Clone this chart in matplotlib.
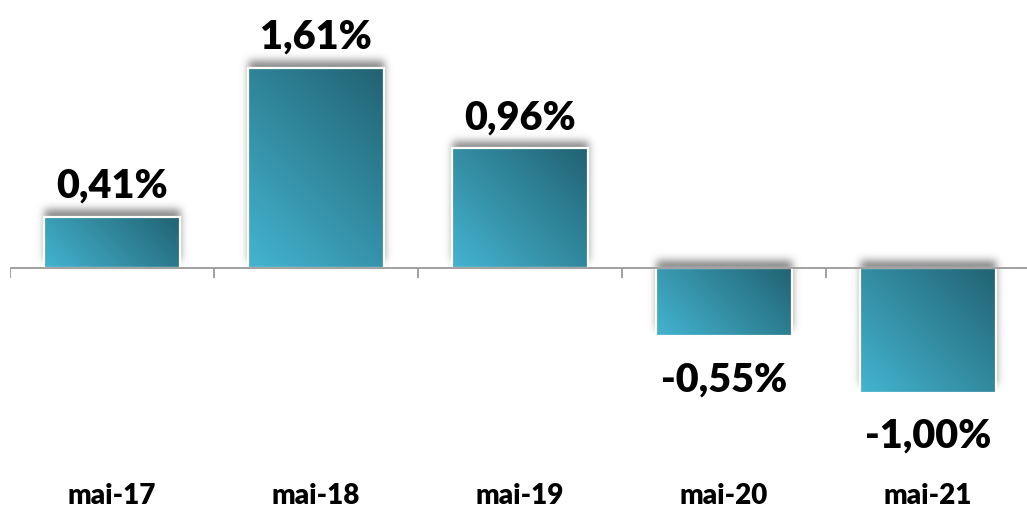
import numpy as np
import matplotlib
matplotlib.use("Agg")
import matplotlib.pyplot as plt
from matplotlib.patches import Rectangle
from matplotlib.transforms import blended_transform_factory, offset_copy
from math import erf

categories = ["mai-17", "mai-18", "mai-19", "mai-20", "mai-21"]
values = [0.41, 1.61, 0.96, -0.55, -1.00]
labels = ["0,41%", "1,61%", "0,96%", "-0,55%", "-1,00%"]

W, H, DPI = 1027, 510, 100
fig = plt.figure(figsize=(W / DPI, H / DPI), dpi=DPI)
ymin, ymax = -1.4, 2.0
px_per_unit = 124.5
zero_px = 269
top_px = zero_px - ymax * px_per_unit
bot_px = zero_px - ymin * px_per_unit
ax = fig.add_axes([10 / W, (H - bot_px) / H, 1020 / W, (bot_px - top_px) / H])
ax.set_xlim(-0.5, len(categories) - 0.5)
ax.set_ylim(ymin, ymax)
ax.axis("off")

xpx = 204.0
bw = 0.667
light = np.array([68, 180, 208]) / 255
dark = np.array([33, 98, 114]) / 255


def smooth(d, s):
    return 0.5 * (1 + np.vectorize(erf)(d / (s * np.sqrt(2))))


for i, v in enumerate(values):
    x0 = i - bw / 2
    y0, y1 = min(0, v), max(0, v)
    off = 7 / px_per_unit
    sig_x, sig_y = 4 / xpx, 4 / px_per_unit
    pad_x, pad_y = 16 / xpx, 16 / px_per_unit
    sx0, sx1 = x0 - pad_x, x0 + bw + pad_x
    sy0, sy1 = y0 + off - pad_y, y1 + off + pad_y
    xs = np.linspace(sx0, sx1, 120)
    ys = np.linspace(sy0, sy1, 200)
    X, Y = np.meshgrid(xs, ys)
    a = (smooth(X - x0, sig_x) * smooth(x0 + bw - X, sig_x)
         * smooth(Y - (y0 + off), sig_y) * smooth(y1 + off - Y, sig_y))
    img = np.zeros(a.shape + (4,))
    img[..., :3] = 0.42
    img[..., 3] = a * 0.8
    ax.imshow(img, extent=(sx0, sx1, sy0, sy1), origin="lower",
              aspect="auto", zorder=1, interpolation="bilinear")
    wpx = bw * xpx
    hpx = (y1 - y0) * px_per_unit
    gx = np.linspace(0, wpx, 100)
    gy = np.linspace(0, hpx, 100)
    GX, GY = np.meshgrid(gx, gy)
    t = (GX + GY) / (wpx + hpx)
    g = light[None, None, :] * (1 - t[..., None]) + dark[None, None, :] * t[..., None]
    ax.imshow(g, extent=(x0, x0 + bw, y0, y1), origin="lower",
              aspect="auto", zorder=2, interpolation="bilinear")
    ax.add_patch(Rectangle((x0, y0), bw, y1 - y0, facecolor="none",
                           edgecolor="white", lw=1.6, zorder=3))
    dy = 14.5 if v >= 0 else -39
    tr = offset_copy(ax.transData, fig=fig, x=0, y=dy, units="points")
    ax.text(i, v, labels[i], transform=tr, ha="center", va="baseline",
            fontsize=28.5, fontweight="heavy", family="Lato", color="black",
            zorder=5)

ax.axhline(0, color="#9a9a9a", lw=1.3, zorder=4)
bounds = np.arange(len(categories) + 1) - 0.5
tick_len = 10 / px_per_unit
ax.vlines(bounds, -tick_len, 0, color="#9a9a9a", lw=1.3, zorder=4)

bt = blended_transform_factory(ax.transData, fig.transFigure)
for i, c in enumerate(categories):
    ax.text(i, (H - 496) / H, c, transform=bt, ha="center", va="center",
            fontsize=20, fontweight="heavy", family="Lato", color="black")

fig.savefig("out.png", dpi=DPI, facecolor="white")
